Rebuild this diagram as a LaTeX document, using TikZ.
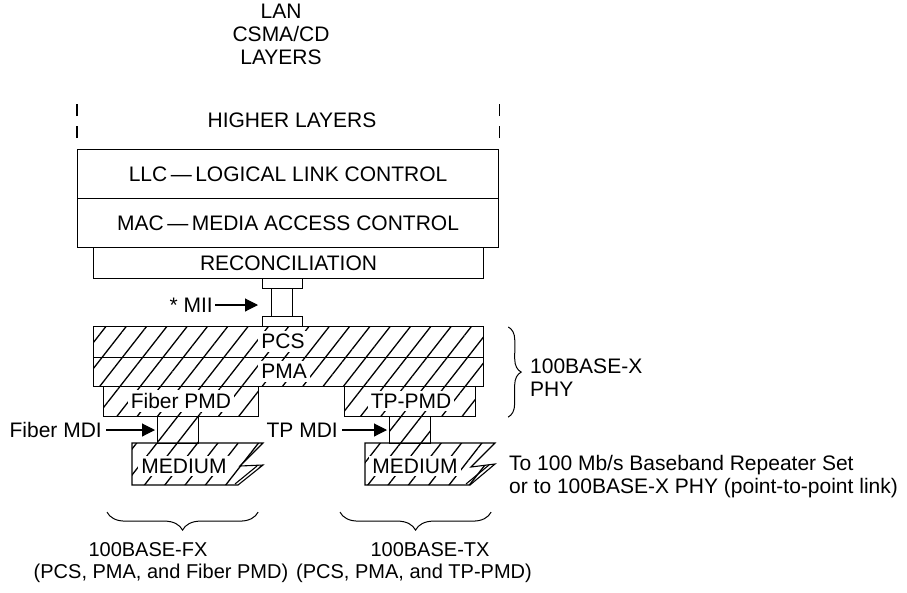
\documentclass[tikz,border=0pt]{standalone}
\usepackage{fontspec}
\setmainfont{Liberation Sans}
\usetikzlibrary{arrows.meta, positioning, patterns.meta, decorations.pathreplacing, calc}
\tikzset{
  layer/.style={draw, line width=1.1pt, inner sep=0pt, anchor=north west,
                minimum width=#1, font=\fontsize{21}{23}\selectfont},
  hatched/.style={draw, line width=1.1pt,
                  pattern={Lines[angle=52, distance=16pt, line width=1.3pt]}},
  lbl/.style={font=\fontsize{21}{23}\selectfont, inner sep=0pt},
  sublbl/.style={font=\fontsize{20}{22}\selectfont, inner sep=0pt},
  wlbl/.style={lbl, fill=white, inner sep=3pt},
  ptr/.style={-{Triangle[length=13pt, width=13pt]}, line width=1.1pt},
  brc/.style={decorate, decoration={brace, amplitude=#1}, line width=1pt},
  hldash/.style={line width=1.1pt, dash pattern=on 12pt off 10pt},
}
\begin{document}
\begin{tikzpicture}[x=1pt, y=-1pt]
  \useasboundingbox (0,0) rectangle (907,592);
  \node[lbl, align=center] (title) at (281,34) {LAN\\CSMA/CD\\LAYERS};
  \node[lbl] (higher) at (292,120) {HIGHER LAYERS};
  \node[layer=421pt, minimum height=49pt] (llc) at (77,149) {LLC\,---\,LOGICAL LINK CONTROL};
  \node[layer=421pt, minimum height=49pt] (mac) at (77,198) {MAC\,---\,MEDIA ACCESS CONTROL};
  \node[layer=390pt, minimum height=31pt] (rec) at (93,247) {RECONCILIATION};
  \draw[hldash] (llc.north west) ++(0,-11) -- ++(0,-35);
  \draw[hldash] (llc.north east) ++(0,-11) -- ++(0,-35);

  \node[layer=40pt, minimum height=10pt] (miitop) at (262,278) {};
  \node[layer=21pt, minimum height=28pt] (miistem) at (271,288) {};
  \node[layer=40pt, minimum height=10pt] (miibot) at (262,316) {};
  \node[lbl, anchor=east] (miilbl) at (213,305) {* MII};
  \draw[ptr, shorten >=13pt] (miilbl.east) ++(2,0) -- (miilbl.east -| miistem.west);

  \node[layer=390pt, minimum height=31pt, hatched] (pcs) at (93,326) {};
  \node[layer=390pt, minimum height=29pt, hatched] (pma) at (93,357) {};
  \node[layer=155pt, minimum height=30pt, hatched] (fpmd) at (103,386) {};
  \node[layer=131pt, minimum height=30pt, hatched] (tpmd) at (344,386) {};
  \node[layer=41pt, minimum height=27pt, hatched] (fmdi) at (157,416) {};
  \node[layer=41pt, minimum height=27pt, hatched] (tmdi) at (389,416) {};
  \draw[hatched] (132,443) -- (263,443) -- (240,466) -- (263,465) -- (238,485) -- (132,485) -- cycle;
  \draw[hatched] (365,443) -- (495,443) -- (471,467) -- (495,464) -- (470,485) -- (365,485) -- cycle;
  \draw[line width=1.1pt] (257,466) -- (235,484);
  \draw[line width=1.1pt] (489,465) -- (466,484);

  \node[wlbl] (pcslbl) at (283,341.5) {PCS};
  \node[wlbl] (pmalbl) at (284,371.5) {PMA};
  \node[wlbl] (fpmdlbl) at (181,401) {Fiber PMD};
  \node[wlbl] (tpmdlbl) at (411,401) {TP-PMD};
  \node[wlbl] (fmed) at (184,466) {MEDIUM};
  \node[wlbl] (tmed) at (415,466) {MEDIUM};

  \node[lbl, anchor=east] (fmdilbl) at (102,430) {Fiber MDI};
  \node[lbl, anchor=east] (tmdilbl) at (338,430) {TP MDI};
  \draw[ptr, shorten >=2pt] (fmdilbl.east) ++(4,0) -- (fmdilbl.east -| fmdi.west);
  \draw[ptr, shorten >=2pt] (tmdilbl.east) ++(4,0) -- (tmdilbl.east -| tmdi.west);

  \draw[brc=13pt] ($(pcs.north east)+(24,1)$) -- ($(tpmd.south east)+(32,0)$);
  \node[lbl, align=left, anchor=west] (phy) at (530,378) {100BASE-X\\PHY};
  \node[lbl, align=left, anchor=west] (rep) at (509,477)
    {To 100 Mb/s Baseband Repeater Set\\or to 100BASE-X PHY (point-to-point link)};

  \draw[brc=18pt] ($(fpmd.south east)+(-1,95)$) -- ($(fpmd.south west)+(4,95)$);
  \draw[brc=18pt] ($(tpmd.south east)+(15,95)$) -- ($(tpmd.south west)+(-4,95)$);
  \node[sublbl] (fx) at (148,550) {100BASE-FX};
  \node[sublbl] (fxsub) at (161,573) {(PCS, PMA, and Fiber PMD)};
  \node[sublbl] (tx) at (430,550) {100BASE-TX};
  \node[sublbl] (txsub) at (414,573) {(PCS, PMA, and TP-PMD)};
\end{tikzpicture}
\end{document}
